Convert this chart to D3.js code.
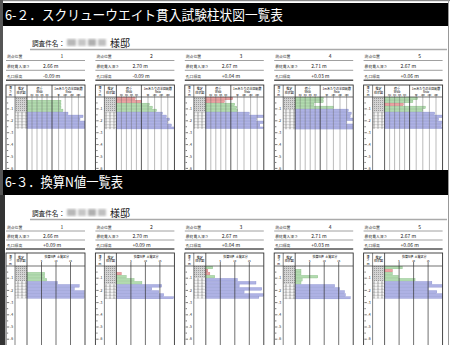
<!DOCTYPE html>
<html><head><meta charset="utf-8">
<script src="https://cdn.jsdelivr.net/npm/d3@7"></script>
<style>body{margin:0;background:#fff}svg{display:block}text{font-family:"Noto Sans CJK JP","Noto Sans",sans-serif}</style>
</head><body><svg id="c" width="450" height="345"></svg>
<script>
// ---------- data ----------
const pointNames = ["1","2","3","4","5"];
const finalDepths = [2.66, 2.70, 2.67, 2.71, 2.67];
const elevTop = ["-0.09","-0.09","+0.04","+0.03","+0.06"];
const elevBottom = ["+0.09","+0.09","+0.04","+0.03","+0.06"];
const rowLabels = ["測点位置","最終貫入深さ","孔口標高"];
const wswTicks = [0.2, 0.4, 0.6, 0.8];
const nswTicks = [50, 100, 150, 200];
const nTicks = [5, 10, 15];
const depthTicks = [1, 2, 3, 4, 5, 6];
// soil codes: r = fill (red), g = cohesive (green), b = sandy (blue)
const soilTop = [
  ["g","g","g","g","g","b","b","b","b","b","b"],
  ["r","r","g","g","g","b","b","b","b","b","b"],
  ["r","r","g","g","g","b","b","b","b","b","b"],
  ["g","g","g","g","b","b","b","b","b","b","b"],
  ["g","g","r","g","g","b","b","b","b","b","b"]
];
const wswTop = [
  [0, 1, 1, 1, 1, 1, 1, 1, 1, 1, 1],
  [0.75, 1, 1, 1, 1, 1, 1, 1, 1, 1, 1],
  [1, 0.75, 1, 1, 1, 1, 1, 1, 1, 1, 1],
  [1, 1, 0.75, 1, 1, 1, 1, 1, 1, 1, 1],
  [1, 1, 0.75, 1, 1, 1, 1, 1, 1, 1, 1]
];
const nswTop = [
  [0, 68, 68, 68, 83, 121, 235, 212, 250, 250, 250],
  [0, 0, 60, 83, 114, 159, 189, 212, 197, 227, 250],
  [15, 0, 30, 45, 50, 140, 250, 195, 250, 220, 250],
  [23, 23, 0, 99, 212, 235, 227, 250, 197, 250, 250],
  [60, 25, 0, 120, 100, 190, 250, 220, 250, 240, 250]
];
const soilBottom = [
  ["g","g","g","g","g","b","b","b","b","b","b"],
  ["r","r","r","g","g","g","b","b","b","b","b"],
  ["g","r","r","g","b","b","b","b","b","b","b"],
  ["g","g","g","g","g","g","b","b","b","b","b"],
  ["g","r","g","g","g","b","b","b","b","b","b"]
];
const nBottom = [
  [0, 0, 6.1, 6.1, 6.8, 10.5, 18, 16.3, 19.7, 19.7, 19.7],
  [0, 0, 1.7, 3.4, 6.1, 8.8, 15.6, 12.2, 14.6, 16.3, 19.7],
  [2.4, 0.7, 1.4, 3.1, 10.9, 17.3, 11.5, 19.3, 13.2, 20, 18.3],
  [0, 2.0, 2.0, 7.8, 2.4, 2.0, 13.6, 15.3, 17, 17.3, 19],
  [6.1, 2.7, 2.7, 4.7, 10.5, 16.3, 20, 15, 18, 20, 20]
];

// ---------- drawing ----------
const svg = d3.select("#c");
const defs = svg.append("defs");
const pc = defs.append("pattern").attr("id","clay").attr("patternUnits","userSpaceOnUse").attr("width",2).attr("height",2);
pc.append("rect").attr("width",2).attr("height",2).attr("fill","#d2d2d2");
pc.append("rect").attr("width",1).attr("height",1).attr("fill","#9a9a9a");
const ps = defs.append("pattern").attr("id","sand").attr("patternUnits","userSpaceOnUse").attr("width",4).attr("height",3);
ps.append("rect").attr("width",4).attr("height",3).attr("fill","#f2f2f2");
ps.append("circle").attr("cx",2).attr("cy",1.5).attr("r",0.9).attr("fill","none").attr("stroke","#555").attr("stroke-width",0.45);
defs.append("filter").attr("id","blur").append("feGaussianBlur").attr("stdDeviation",1.1);

const fills = {r:"#eba3a3", g:"#b3dbb0", b:"#aeb2e4"};
const strokes = {r:"#cc7070", g:"#7fb87c", b:"#7f86c8"};

svg.append("rect").attr("width",450).attr("height",345).attr("fill","#fff");
const px = i => 6 + i*89.4;
const PW = 79;

function rowsFor(final){
  const rows=[]; let d=0;
  while(d < final-1e-9){ rows.push([d, Math.min(d+0.25, final)]); d+=0.25; }
  return rows;
}

function header(g, title, ty, textLen){
  // black title band
}

function section(cfg){
  const g = svg.append("g");
  g.append("rect").attr("x",3).attr("y",cfg.barY).attr("width",445).attr("height",cfg.barH).attr("fill","#000");
  g.append("text").attr("x",5).attr("y",cfg.barY+17).attr("fill","#fff").attr("font-size",13.5)
    .attr("textLength",cfg.titleLen).attr("lengthAdjust","spacingAndGlyphs").text(cfg.title);
  // subject line
  g.append("text").attr("x",32).attr("y",cfg.subY).attr("font-size",7).attr("fill","#222")
    .attr("textLength",33).attr("lengthAdjust","spacingAndGlyphs").text("調査件名：");
  const blurG = g.append("g").attr("filter","url(#blur)");
  [[67,9,"#b8b8b8"],[78,8,"#c6c6c6"],[88,8,"#b0b0b0"],[98,8,"#c0c0c0"]].forEach(([x,w,c])=>{
    blurG.append("rect").attr("x",x).attr("y",cfg.subY-7).attr("width",w).attr("height",7).attr("fill",c);
  });
  g.append("text").attr("x",110).attr("y",cfg.subY+1).attr("font-size",10).attr("fill","#111").text("様邸");
  g.append("line").attr("x1",30).attr("x2",447).attr("y1",cfg.subY+3.5).attr("y2",cfg.subY+3.5)
    .attr("stroke","#aaa").attr("stroke-width",1.4);

  for(let i=0;i<5;i++){
    const x0 = px(i);
    const pg = g.append("g");
    const vals = [pointNames[i], finalDepths[i].toFixed(2)+" m", cfg.elev[i]+" m"];
    rowLabels.forEach((lab,k)=>{
      const by = cfg.rowY[k];
      pg.append("text").attr("x",x0+1).attr("y",by).attr("font-size",3.8).attr("fill","#333").text(lab);
      pg.append("text").attr("x", k===0? x0+56 : x0+37).attr("y",by).attr("font-size",5)
        .attr("text-anchor", k===0? "middle":"start").attr("fill","#222").text(vals[k]);
      pg.append("line").attr("x1",x0).attr("x2",x0+PW).attr("y1",by+2.5).attr("y2",by+2.5)
        .attr("stroke", k===2? "#555":"#888").attr("stroke-width", k===2? 1.4:0.8);
    });
    // chart box
    const bTop = cfg.boxTop, hB = cfg.headBot, bBot = cfg.boxBot;
    const y = d3.scaleLinear().domain([0,1]).range([hB, hB+cfg.ppm]);
    const clipId = cfg.id+"clip"+i;
    defs.append("clipPath").attr("id",clipId).append("rect").attr("x",x0).attr("y",bTop).attr("width",PW).attr("height",bBot-bTop);
    const cg = pg.append("g").attr("clip-path",`url(#${clipId})`);
    cg.append("rect").attr("x",x0).attr("y",bTop).attr("width",PW).attr("height",bBot-bTop).attr("fill","#fff");
    const rows = rowsFor(finalDepths[i]);
    const soils = cfg.soil[i];
    // soil column
    rows.forEach((r,k)=>{
      cg.append("rect").attr("x",x0+9).attr("y",y(r[0])).attr("width",12).attr("height",y(r[1])-y(r[0]))
        .attr("fill", soils[k]==="b" ? "url(#sand)" : "url(#clay)");
    });
    // bars
    let barEnd;
    if(cfg.id==="top"){
      const xW = d3.scaleLinear().domain([0,1]).range([x0+21,x0+46]);
      const xN = d3.scaleLinear().domain([0,250]).range([x0+46,x0+PW]);
      barEnd = k => { const w = cfg.wsw[i][k]; if(!w) return null; return w<1 ? xW(w) : xN(cfg.nsw[i][k]); };
      rows.forEach((r,k)=>{
        const e = barEnd(k); if(e===null) return;
        cg.append("rect").attr("x",x0+21).attr("y",y(r[0])+0.2).attr("width",Math.max(0,e-(x0+21)))
          .attr("height",y(r[1])-y(r[0])-0.4).attr("fill",fills[soils[k]]).attr("stroke",strokes[soils[k]]).attr("stroke-width",0.35);
      });
      // grid
      wswTicks.forEach(t=>{ cg.append("line").attr("x1",xW(t)).attr("x2",xW(t)).attr("y1",hB-3).attr("y2",bBot).attr("stroke","#666").attr("stroke-width",0.45); });
      nswTicks.forEach(t=>{ cg.append("line").attr("x1",xN(t)).attr("x2",xN(t)).attr("y1",hB-3).attr("y2",bBot).attr("stroke","#666").attr("stroke-width",0.45); });
      // header text
      const hf = 3;
      [["深",89],["さ",92.5],["m",96]].forEach(([t,yy])=>cg.append("text").attr("x",x0+4.5).attr("y",yy).attr("font-size",hf).attr("text-anchor","middle").text(t));
      [["推定",90],["柱状図",93.5]].forEach(([t,yy])=>cg.append("text").attr("x",x0+15).attr("y",yy).attr("font-size",hf).attr("text-anchor","middle").text(t));
      [["荷重",89.5],["Wsw",93]].forEach(([t,yy])=>cg.append("text").attr("x",x0+33.5).attr("y",yy).attr("font-size",hf).attr("text-anchor","middle").text(t));
      [["1mあたりの半回転数",89.5],["Nsw",93]].forEach(([t,yy])=>cg.append("text").attr("x",x0+62.5).attr("y",yy).attr("font-size",hf).attr("text-anchor","middle").text(t));
      wswTicks.forEach(t=>cg.append("text").attr("x",xW(t)).attr("y",96.3).attr("font-size",2.2).attr("text-anchor","middle").text(t.toFixed(1)));
      nswTicks.forEach(t=>cg.append("text").attr("x",xN(t)).attr("y",96.3).attr("font-size",2.2).attr("text-anchor","middle").text(t));
      // column dividers
      [21,46].forEach(o=>cg.append("line").attr("x1",x0+o).attr("x2",x0+o).attr("y1",bTop).attr("y2",bBot).attr("stroke","#333").attr("stroke-width",0.8));
    } else {
      const xN = d3.scaleLinear().domain([0,20]).range([x0+21,x0+PW]);
      rows.forEach((r,k)=>{
        const v = cfg.n[i][k]; if(!v) return;
        cg.append("rect").attr("x",x0+21).attr("y",y(r[0])+0.2).attr("width",xN(v)-(x0+21))
          .attr("height",y(r[1])-y(r[0])-0.4).attr("fill",fills[soils[k]]).attr("stroke",strokes[soils[k]]).attr("stroke-width",0.35);
      });
      nTicks.forEach(t=>{ cg.append("line").attr("x1",xN(t)).attr("x2",xN(t)).attr("y1",hB-4).attr("y2",bBot).attr("stroke","#333").attr("stroke-width",0.7); });
      const hf = 3;
      [["深",257.5],["さ",261],["m",264.8]].forEach(([t,yy])=>cg.append("text").attr("x",x0+4.5).attr("y",yy).attr("font-size",hf).attr("text-anchor","middle").text(t));
      [["推定",258.5],["柱状図",262]].forEach(([t,yy])=>cg.append("text").attr("x",x0+15).attr("y",yy).attr("font-size",hf).attr("text-anchor","middle").text(t));
      cg.append("text").attr("x",x0+44).attr("y",258).attr("font-size",3).attr("text-anchor","middle").text("換算N値");
      cg.append("text").attr("x",x0+57).attr("y",258).attr("font-size",3).attr("text-anchor","middle").text("土質区分");
      nTicks.forEach(t=>cg.append("text").attr("x",xN(t)).attr("y",261.8).attr("font-size",2.6).attr("text-anchor","middle").text(t));
      cg.append("line").attr("x1",x0+21).attr("x2",x0+21).attr("y1",bTop).attr("y2",bBot).attr("stroke","#333").attr("stroke-width",0.8);
    }
    // depth column ticks
    d3.range(0.5, 7, 0.5).forEach(d=>{
      const major = Number.isInteger(d);
      cg.append("line").attr("x1",x0+0.8).attr("x2",x0+(major?3.2:2.2)).attr("y1",y(d)).attr("y2",y(d)).attr("stroke","#222").attr("stroke-width",0.6);
    });
    depthTicks.forEach(d=>cg.append("text").attr("x",x0+4).attr("y",y(d)+1.2).attr("font-size",3.4).attr("fill","#222").text("-"+d));
    cg.append("line").attr("x1",x0+9).attr("x2",x0+9).attr("y1",bTop).attr("y2",bBot).attr("stroke","#333").attr("stroke-width",0.6);
    cg.append("line").attr("x1",x0).attr("x2",x0+PW).attr("y1",hB).attr("y2",hB).attr("stroke","#333").attr("stroke-width",0.7);
    pg.append("rect").attr("x",x0).attr("y",bTop).attr("width",PW).attr("height",bBot-bTop).attr("fill","none").attr("stroke","#333").attr("stroke-width",0.9);
  }
}

section({id:"top", barY:3, barH:23, title:"6-２．スクリューウエイト貫入試験柱状図一覧表", titleLen:278,
  subY:46, rowY:[58,67.8,77.8], elev:elevTop, boxTop:85, headBot:97, boxBot:172, ppm:11.9,
  soil:soilTop, wsw:wswTop, nsw:nswTop});
section({id:"bot", barY:170, barH:25, title:"6-３．換算N値一覧表", titleLen:118,
  subY:216, rowY:[228.5,237.5,246.5], elev:elevBottom, boxTop:253, headBot:266, boxBot:350, ppm:12.2,
  soil:soilBottom, n:nBottom});

// page frame
svg.append("rect").attr("x",0).attr("y",0).attr("width",450).attr("height",1.2).attr("fill","#888");
svg.append("rect").attr("x",0).attr("y",0).attr("width",3).attr("height",345).attr("fill","#555");
svg.append("rect").attr("x",0).attr("y",195).attr("width",5).attr("height",150).attr("fill","#333");
svg.append("line").attr("x1",448.5).attr("x2",448.5).attr("y1",0).attr("y2",345).attr("stroke","#999").attr("stroke-width",1);
</script></body></html>
